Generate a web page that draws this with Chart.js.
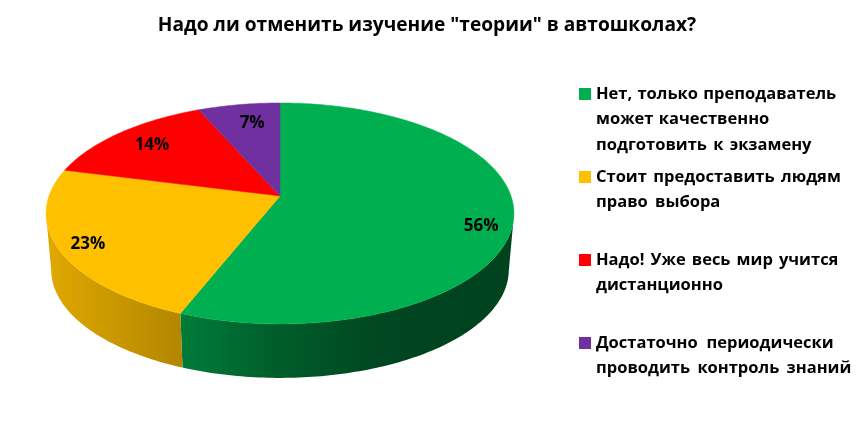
<!DOCTYPE html>
<html lang="ru">
<head>
<meta charset="utf-8">
<title>Опрос</title>
<script src="https://cdn.jsdelivr.net/npm/chart.js@4"></script>
<style>
  html, body { margin: 0; background: #fff; }
  canvas { display: block; }
</style>
</head>
<body>
<canvas id="pollChart" width="854" height="423"></canvas>
<script>
const titleText = 'Надо ли отменить изучение "теории" в автошколах?';
const categories = [
  ["Нет, только преподаватель", "может качественно", "подготовить к экзамену"],
  ["Стоит предоставить людям", "право выбора"],
  ["Надо! Уже весь мир учится", "дистанционно"],
  ["Достаточно периодически", "проводить контроль знаний"]
];
const shares = [56, 23, 14.4, 6.6];
const colors = ["#00B050", "#FFC000", "#FF0000", "#7030A0"];

const FONT = '"Open Sans", sans-serif';

// perspective of the tilted disc
const TILT = 0.158, RX = 1.582, RY = 0.7377;
const FLOOR_SCALE = 0.978, FLOOR_DROP = 56.8;
// how far out each % label sits on its slice, plus small nudges
const labelRadius = [0.86, 0.875, 0.785, 0.8];
const labelNudgeX = [1, 0, 0, 6];
const labelNudgeY = [12, 3, 0, 2];
// extra word spacing per legend line, the original has loose spaces
const legendWordGap = [[1, 1, 2], [2.2, 3], [1.8, 0], [4.5, 3]];

function project(arc, angle, t, floor) {
  const u = Math.cos(angle) * t, v = Math.sin(angle) * t;
  const w = 1 - TILT * v;
  const s = floor ? FLOOR_SCALE : 1;
  return {
    x: arc.x + s * arc.outerRadius * RX * u / w,
    y: arc.y + (floor ? FLOOR_DROP : 0) + s * arc.outerRadius * RY * v / w
  };
}

function shade(hex, k) {
  const n = parseInt(hex.slice(1), 16);
  return `rgb(${(n >> 16) * k},${((n >> 8) & 255) * k},${(n & 255) * k})`;
}

function rimAngles(a0, a1) {
  const out = [];
  const n = Math.max(2, Math.ceil((a1 - a0) * 60));
  for (let i = 0; i <= n; i++) out.push(a0 + (a1 - a0) * i / n);
  return out;
}

const pie3d = {
  id: "pie3d",
  // title is centred on the whole canvas, not on the pie
  afterLayout(chart) {
    chart.titleBlock.right = chart.width;
    chart.titleBlock.width = chart.width;
  },
  beforeDatasetsDraw(chart) {
    const ctx = chart.ctx;
    const arcs = chart.getDatasetMeta(0).data;

    // side wall, only the part that faces the viewer
    arcs.forEach((arc, i) => {
      const angles = rimAngles(arc.startAngle, arc.endAngle).filter(a => Math.sin(a) >= TILT);
      if (angles.length < 2) return;
      const g = ctx.createLinearGradient(46, 0, 514, 0);
      g.addColorStop(0, shade(colors[i], 0.88));
      g.addColorStop(0.29, shade(colors[i], 0.70));
      g.addColorStop(0.5, shade(colors[i], 0.52));
      g.addColorStop(0.72, shade(colors[i], 0.40));
      g.addColorStop(1, shade(colors[i], 0.38));
      ctx.beginPath();
      angles.forEach((a, j) => {
        const p = project(arc, a, 1, false);
        j ? ctx.lineTo(p.x, p.y) : ctx.moveTo(p.x, p.y);
      });
      angles.slice().reverse().forEach(a => {
        const p = project(arc, a, 1, true);
        ctx.lineTo(p.x, p.y);
      });
      ctx.closePath();
      ctx.fillStyle = g;
      ctx.fill();
    });

    // top face
    arcs.forEach((arc, i) => {
      ctx.beginPath();
      ctx.moveTo(arc.x, arc.y);
      rimAngles(arc.startAngle, arc.endAngle).forEach(a => {
        const p = project(arc, a, 1, false);
        ctx.lineTo(p.x, p.y);
      });
      ctx.closePath();
      ctx.fillStyle = colors[i];
      ctx.strokeStyle = colors[i];
      ctx.lineWidth = 0.5;
      ctx.fill();
      ctx.stroke();
    });

    // % labels
    ctx.fillStyle = "#000";
    ctx.font = "bold 17px " + FONT;
    ctx.textAlign = "center";
    ctx.textBaseline = "middle";
    arcs.forEach((arc, i) => {
      const p = project(arc, (arc.startAngle + arc.endAngle) / 2, labelRadius[i], false);
      ctx.fillText(Math.round(shares[i]) + "%", p.x + labelNudgeX[i], p.y + labelNudgeY[i]);
    });
    return false;
  }
};

const sideLegend = {
  id: "sideLegend",
  afterDraw(chart) {
    const ctx = chart.ctx;
    ctx.save();
    ctx.font = "bold 16.5px " + FONT;
    ctx.textAlign = "left";
    ctx.textBaseline = "middle";
    categories.forEach((lines, i) => {
      const y = 94 + i * 83;
      ctx.fillStyle = colors[i];
      ctx.fillRect(579, y - 6, 12, 12);
      ctx.fillStyle = "#000";
      lines.forEach((line, j) => {
        ctx.wordSpacing = legendWordGap[i][j] + "px";
        ctx.fillText(line, 596, y + j * 25.5);
      });
    });
    ctx.restore();
  }
};

new Chart(document.getElementById("pollChart"), {
  type: "pie",
  data: {
    labels: categories.map(c => c.join(" ")),
    datasets: [{ data: shares, backgroundColor: colors, borderWidth: 0 }]
  },
  options: {
    responsive: false,
    animation: false,
    devicePixelRatio: 1,
    layout: { padding: { right: 294, bottom: 81 } },
    plugins: {
      legend: { display: false },
      tooltip: { enabled: false },
      title: {
        display: true,
        text: titleText,
        color: "#000",
        font: { family: FONT, size: 19.15, weight: "bold" },
        padding: { top: 14, bottom: 13 }
      }
    }
  },
  plugins: [pie3d, sideLegend]
});
</script>
</body>
</html>
